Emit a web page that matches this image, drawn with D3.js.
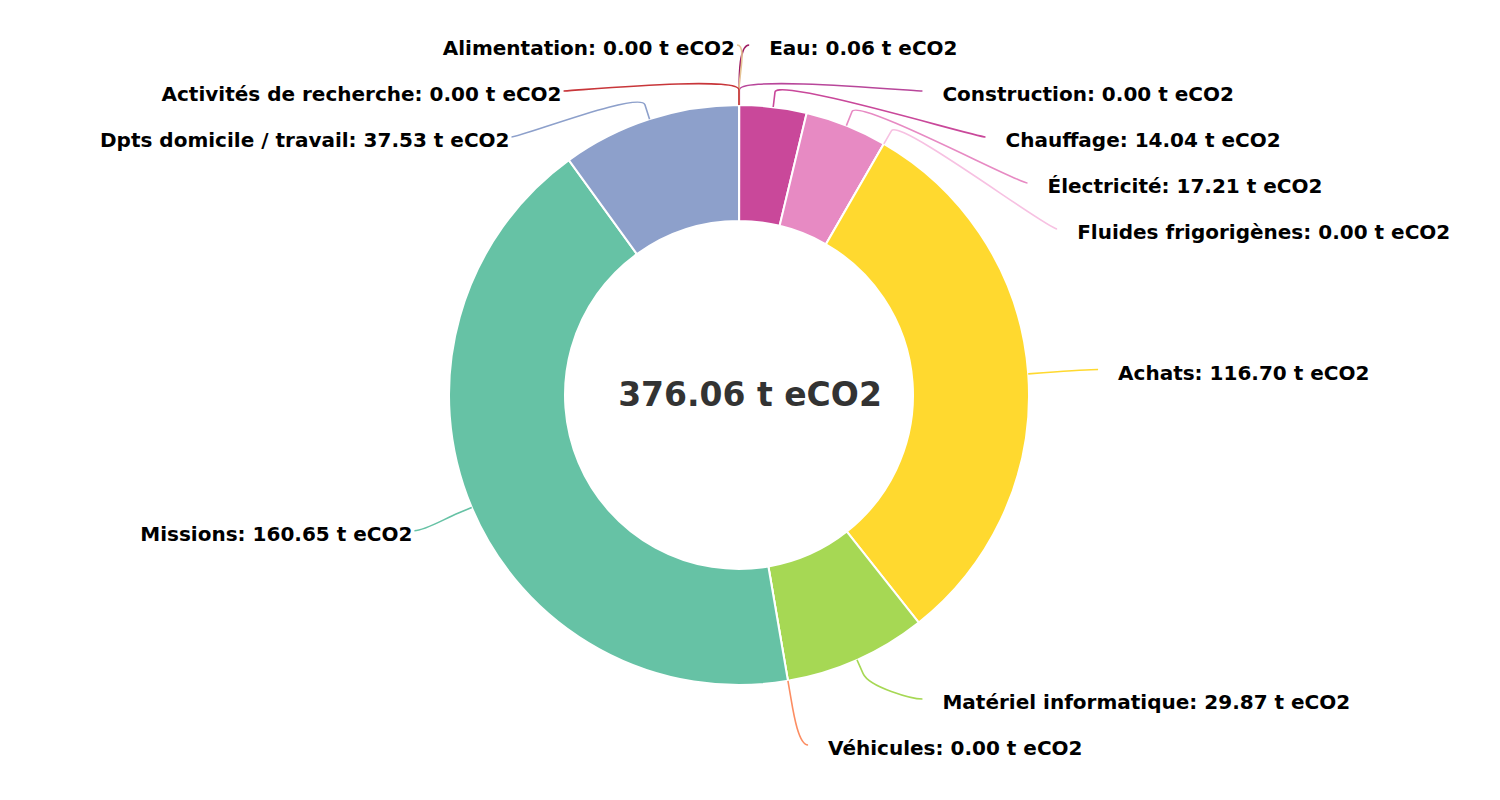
<!DOCTYPE html>
<html lang="fr">
<head>
<meta charset="UTF-8">
<title>Bilan carbone</title>
<script src="https://d3js.org/d3.v7.min.js"></script>
<style>
  body { margin: 0; background: #fff; }
  svg text { font-family: "DejaVu Sans", Verdana, sans-serif; font-weight: bold; }
</style>
</head>
<body>
<div id="chart"></div>
<script>
// data, in slice order (clockwise from the top)
const categories = ["Eau", "Construction", "Chauffage", "Électricité", "Fluides frigorigènes",
  "Achats", "Matériel informatique", "Véhicules", "Missions", "Dpts domicile / travail",
  "Alimentation", "Activités de recherche"];
const values = [0.06, 0, 14.04, 17.21, 0, 116.70, 29.87, 0, 160.65, 37.53, 0, 0];
const colors = ["#9e1d63", "#b8469a", "#c9489a", "#e78ac3", "#f7c1e2", "#ffd92f",
  "#a6d854", "#fc8d62", "#66c2a5", "#8da0cb", "#e5c494", "#c8363a"];
const unit = "t eCO2";

const W = 1500, H = 800;
const cx = 739, cy = 395, R = 290, R0 = 174;
const dist = 60, brk = 15, pad = 10, boxH = 46;

const data = categories.map((c, i) => ({name: c, value: values[i], color: colors[i]}));

const svg = d3.select("#chart").append("svg")
  .attr("width", W).attr("height", H);

const pie = d3.pie().sort(null).value(d => d.value);
const arc = d3.arc().innerRadius(R0).outerRadius(R);
const arcs = pie(data);

const g = svg.append("g").attr("transform", `translate(${cx},${cy})`);
g.selectAll("path")
  .data(arcs)
  .enter().append("path")
  .attr("d", arc)
  .attr("fill", d => d.data.color)
  .attr("stroke", "#fff")
  .attr("stroke-width", 2)
  .attr("stroke-linejoin", "round");

// label anchors
const items = arcs.map(a => {
  const t = (a.startAngle + a.endAngle) / 2;
  const sx = Math.sin(t), sy = -Math.cos(t);
  return {
    d: a.data,
    right: t < Math.PI,
    touch: [cx + R * sx, cy + R * sy],
    brk: [cx + (R + brk) * sx, cy + (R + brk) * sy],
    natY: cy + (R + dist) * sy
  };
});

// spread labels of one side so they do not overlap
const yTop = cy - R - dist, yBottom = cy + R + dist;
function distribute(list) {
  const len = yBottom - yTop + boxH;
  list.sort((a, b) => a.natY - b.natY);
  let boxes = list.map(it => ({size: boxH, targets: [it.natY - yTop + boxH / 2], items: [it]}));
  let overlapping = true;
  while (overlapping) {
    boxes.forEach(b => {
      const mid = (d3.min(b.targets) + d3.max(b.targets)) / 2;
      b.pos = Math.max(0, Math.min(len - b.size, mid - b.size / 2));
    });
    overlapping = false;
    for (let i = boxes.length - 1; i > 0; i--) {
      if (boxes[i - 1].pos + boxes[i - 1].size > boxes[i].pos) {
        boxes[i - 1].size += boxes[i].size;
        boxes[i - 1].targets = boxes[i - 1].targets.concat(boxes[i].targets);
        boxes[i - 1].items = boxes[i - 1].items.concat(boxes[i].items);
        boxes.splice(i, 1);
        overlapping = true;
      }
    }
  }
  boxes.forEach(b => b.items.forEach((it, k) => { it.y = yTop + b.pos + k * boxH; }));
}
distribute(items.filter(d => d.right));
distribute(items.filter(d => !d.right));

function getX(y, right) {
  const a = Math.asin(Math.max(-1, Math.min(1, (y - cy) / (R + dist))));
  return cx + (right ? 1 : -1) * (Math.cos(a) * (R + dist) + pad);
}

const lab = svg.append("g");
items.forEach(it => {
  const atEdge = Math.abs(it.y - yTop) < 0.01 || Math.abs(it.y - yBottom) < 0.01;
  let x = getX(atEdge ? it.natY : it.y, it.right);
  const txt = lab.append("text")
    .attr("y", it.y + 3)
    .attr("dominant-baseline", "central")
    .attr("font-size", 20)
    .attr("fill", "#000")
    .text(`${it.d.name}: ${it.d.value.toFixed(2)} ${unit}`);
  if (it.right) {
    txt.attr("x", x + 20);
  } else {
    x += 8;
    const w = txt.node().getComputedTextLength();
    // keep left labels inside the plot
    if (x - 2 - w < 100) x = 100 + w + 2;
    txt.attr("x", x - 2).attr("text-anchor", "end");
  }
  const [tx, ty] = it.touch, [bx, by] = it.brk;
  const p = d3.path();
  p.moveTo(x, it.y);
  p.bezierCurveTo(x + (it.right ? -10 : 10), it.y, 2 * bx - tx, 2 * by - ty, bx, by);
  p.lineTo(tx, ty);
  lab.insert("path", "text")
    .attr("d", p.toString())
    .attr("fill", "none")
    .attr("stroke", it.d.color)
    .attr("stroke-width", 1.6);
});

// total in the middle
svg.append("text")
  .attr("x", cx + 11).attr("y", cy - 1)
  .attr("text-anchor", "middle")
  .attr("dominant-baseline", "central")
  .attr("font-size", 33)
  .attr("fill", "#333")
  .text(`${d3.sum(values).toFixed(2)} ${unit}`);
</script>
</body>
</html>
